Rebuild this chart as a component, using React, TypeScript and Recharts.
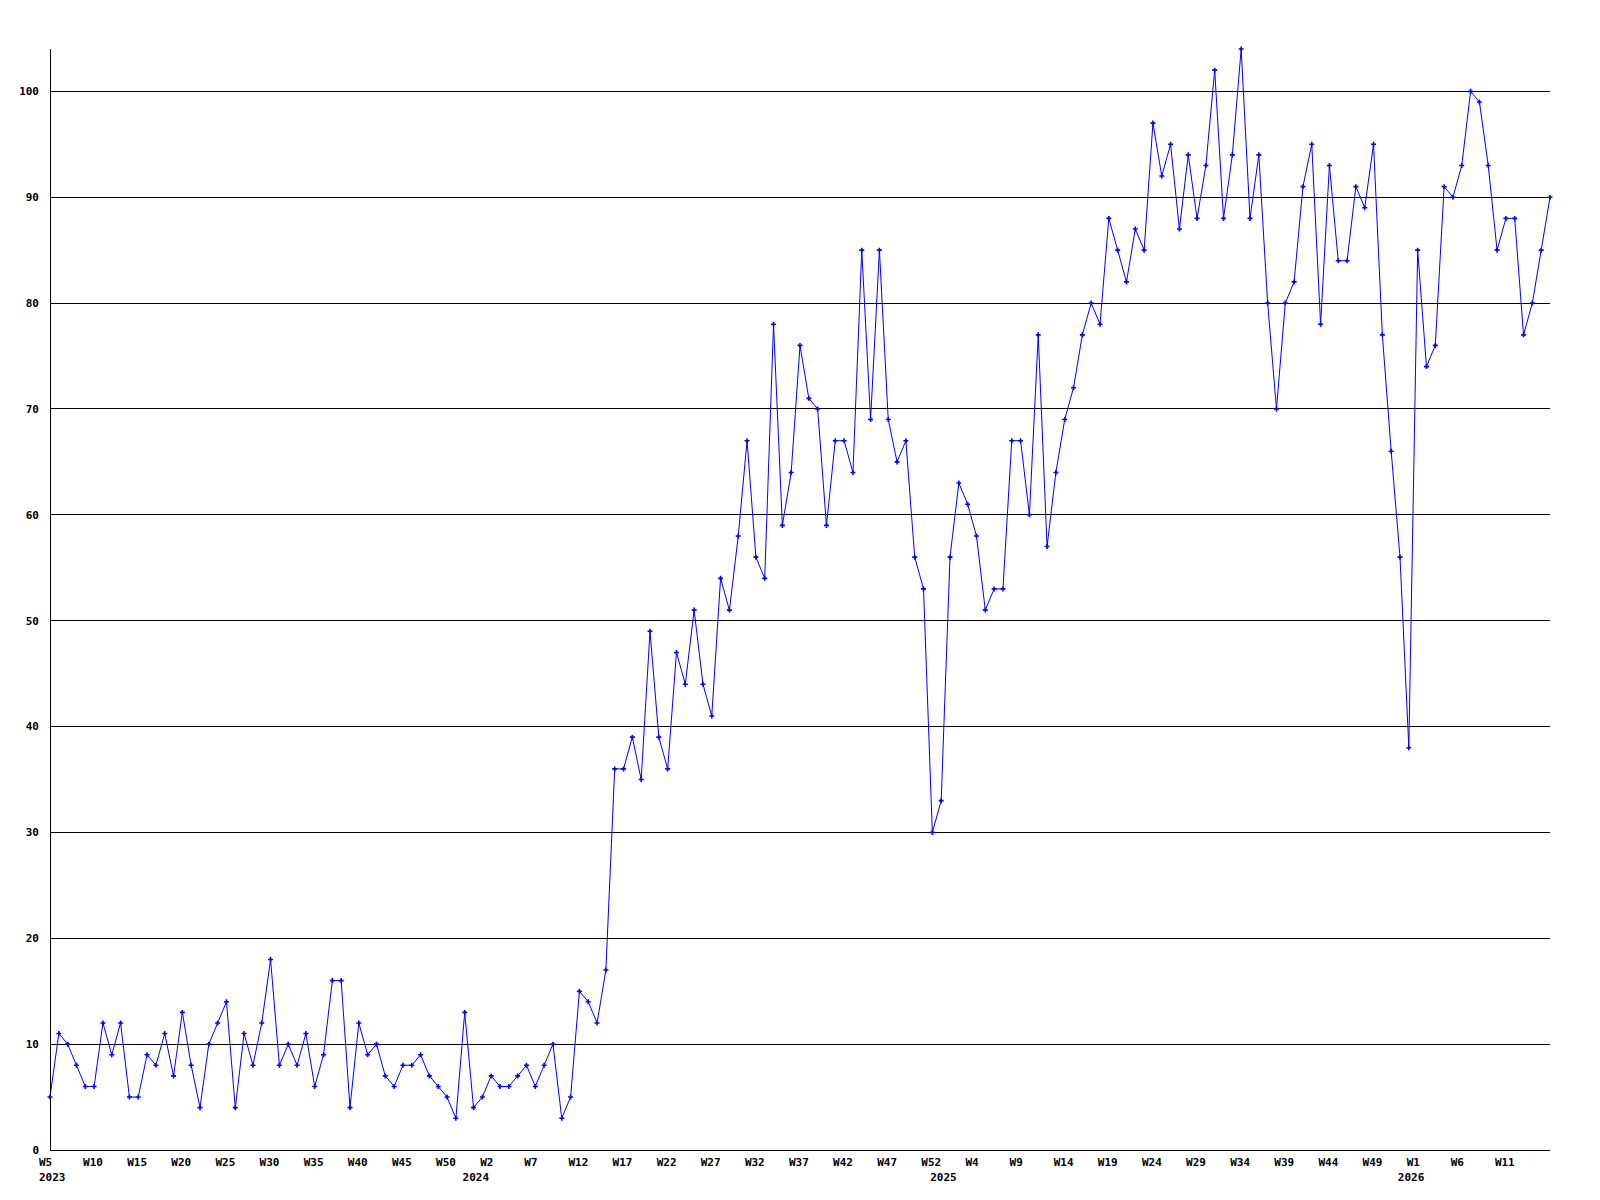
import { LineChart, Line, XAxis, YAxis, CartesianGrid } from "recharts";

// weekly counts, 2023 W5 .. 2026 W16
const values = [
  5, 11, 10, 8, 6, 6, 12, 9, 12, 5,
  5, 9, 8, 11, 7, 13, 8, 4, 10, 12,
  14, 4, 11, 8, 12, 18, 8, 10, 8, 11,
  6, 9, 16, 16, 4, 12, 9, 10, 7, 6,
  8, 8, 9, 7, 6, 5, 3, 13, 4, 5,
  7, 6, 6, 7, 8, 6, 8, 10, 3, 5,
  15, 14, 12, 17, 36, 36, 39, 35, 49, 39,
  36, 47, 44, 51, 44, 41, 54, 51, 58, 67,
  56, 54, 78, 59, 64, 76, 71, 70, 59, 67,
  67, 64, 85, 69, 85, 69, 65, 67, 56, 53,
  30, 33, 56, 63, 61, 58, 51, 53, 53, 67,
  67, 60, 77, 57, 64, 69, 72, 77, 80, 78,
  88, 85, 82, 87, 85, 97, 92, 95, 87, 94,
  88, 93, 102, 88, 94, 104, 88, 94, 80, 70,
  80, 82, 91, 95, 78, 93, 84, 84, 91, 89,
  95, 77, 66, 56, 38, 85, 74, 76, 91, 90,
  93, 100, 99, 93, 85, 88, 88, 77, 80, 85,
  90,
];

// one label every 5 weeks, starting at the first point
const weekTicks = [
  "W5", "W10", "W15", "W20", "W25", "W30", "W35", "W40", "W45", "W50",
  "W2", "W7", "W12", "W17", "W22", "W27", "W32", "W37", "W42", "W47",
  "W52", "W4", "W9", "W14", "W19", "W24", "W29", "W34", "W39", "W44",
  "W49", "W1", "W6", "W11",
];

const years = ["2023", "2024", "2025", "2026"];
const yearStart = [0, 48, 101, 154]; // index of first week of each year

const yTicks = [0, 10, 20, 30, 40, 50, 60, 70, 80, 90, 100];
const gridValues = [10, 20, 30, 40, 50, 60, 70, 80, 90, 100];

const data = values.map((v, i) => ({ i, v }));

const FONT = "DejaVu Sans Mono";

function WeekTick(props: any) {
  const { x, y, payload } = props;
  const i = payload.value as number;
  const yearIdx = yearStart.indexOf(i);
  const hasWeek = i % 5 === 0 && weekTicks[i / 5];
  if (!hasWeek && yearIdx < 0) return null;
  return (
    <g>
      {hasWeek && (
        <text x={x - 11} y={y + 16} fill="#000" fontSize={11} fontWeight="bold" fontFamily={FONT} textAnchor="start">
          {weekTicks[i / 5]}
        </text>
      )}
      {yearIdx >= 0 && (
        <text x={x - 11} y={y + 31} fill="#000" fontSize={11} fontWeight="bold" fontFamily={FONT} textAnchor="start">
          {years[yearIdx]}
        </text>
      )}
    </g>
  );
}

function PlusDot(props: any) {
  const { cx, cy } = props;
  if (cx == null || cy == null) return null;
  return (
    <path
      d={`M${cx - 2.5},${cy} H${cx + 2.5} M${cx},${cy - 2.5} V${cy + 2.5}`}
      stroke="#0000ff"
      strokeWidth={1.6}
      fill="none"
    />
  );
}

export default function App() {
  return (
    <div style={{ position: "absolute", left: 0, top: 0, width: 1600, height: 1200, background: "#fff" }}>
      <style>{`.recharts-cartesian-grid line, .recharts-cartesian-axis-line { shape-rendering: crispEdges; }`}</style>
      <LineChart width={1600} height={1200} data={data} margin={{ top: 49, right: 50, bottom: 0, left: 0 }}>
        <CartesianGrid
          vertical={false}
          stroke="#000"
          strokeDasharray=""
          horizontalValues={gridValues}
        />
        <XAxis
          dataKey="i"
          type="category"
          interval={0}
          height={50}
          tickSize={0}
          tickMargin={0}
          tickLine={false}
          axisLine={{ stroke: "#000" }}
          tick={<WeekTick />}
        />
        <YAxis
          width={50}
          domain={[0, 104]}
          ticks={yTicks}
          tickSize={0}
          tickMargin={11}
          tickLine={false}
          axisLine={{ stroke: "#000" }}
          tick={{ fill: "#000", fontSize: 11, fontWeight: "bold", fontFamily: FONT }}
        />
        <Line
          type="linear"
          dataKey="v"
          stroke="#0000ff"
          strokeWidth={1}
          dot={<PlusDot />}
          activeDot={false}
          isAnimationActive={false}
        />
      </LineChart>
    </div>
  );
}
